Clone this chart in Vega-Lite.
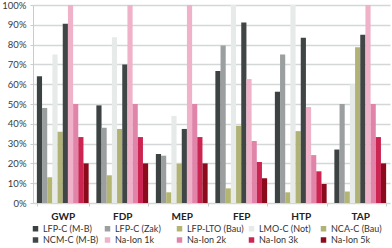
{
  "$schema": "https://vega.github.io/schema/vega-lite/v6.json",
  "width": 357,
  "height": 198,
  "autosize": {"type": "none"},
  "padding": {"left": 33, "top": 5, "right": 2, "bottom": 45},
  "background": "white",
  "config": {"view": {"stroke": null}, "font": "Lato"},
  "data": {"values": [
    {"cat": "GWP", "series": "LFP-C (M-B)", "value": 64},
    {"cat": "GWP", "series": "LFP-C (Zak)", "value": 48},
    {"cat": "GWP", "series": "LFP-LTO (Bau)", "value": 13},
    {"cat": "GWP", "series": "LMO-C (Not)", "value": 75},
    {"cat": "GWP", "series": "NCA-C (Bau)", "value": 36},
    {"cat": "GWP", "series": "NCM-C (M-B)", "value": 90.5},
    {"cat": "GWP", "series": "Na-Ion 1k", "value": 100},
    {"cat": "GWP", "series": "Na-Ion 2k", "value": 50},
    {"cat": "GWP", "series": "Na-Ion 3k", "value": 33.3},
    {"cat": "GWP", "series": "Na-Ion 5k", "value": 20},
    {"cat": "FDP", "series": "LFP-C (M-B)", "value": 49.3},
    {"cat": "FDP", "series": "LFP-C (Zak)", "value": 38},
    {"cat": "FDP", "series": "LFP-LTO (Bau)", "value": 14},
    {"cat": "FDP", "series": "LMO-C (Not)", "value": 83.7},
    {"cat": "FDP", "series": "NCA-C (Bau)", "value": 37.4},
    {"cat": "FDP", "series": "NCM-C (M-B)", "value": 70},
    {"cat": "FDP", "series": "Na-Ion 1k", "value": 100},
    {"cat": "FDP", "series": "Na-Ion 2k", "value": 50},
    {"cat": "FDP", "series": "Na-Ion 3k", "value": 33.3},
    {"cat": "FDP", "series": "Na-Ion 5k", "value": 20},
    {"cat": "MEP", "series": "LFP-C (M-B)", "value": 24.7},
    {"cat": "MEP", "series": "LFP-C (Zak)", "value": 23.9},
    {"cat": "MEP", "series": "LFP-LTO (Bau)", "value": 5.4},
    {"cat": "MEP", "series": "LMO-C (Not)", "value": 44},
    {"cat": "MEP", "series": "NCA-C (Bau)", "value": 19.8},
    {"cat": "MEP", "series": "NCM-C (M-B)", "value": 37.4},
    {"cat": "MEP", "series": "Na-Ion 1k", "value": 100},
    {"cat": "MEP", "series": "Na-Ion 2k", "value": 50},
    {"cat": "MEP", "series": "Na-Ion 3k", "value": 33.3},
    {"cat": "MEP", "series": "Na-Ion 5k", "value": 20},
    {"cat": "FEP", "series": "LFP-C (M-B)", "value": 66.7},
    {"cat": "FEP", "series": "LFP-C (Zak)", "value": 79.6},
    {"cat": "FEP", "series": "LFP-LTO (Bau)", "value": 7.4},
    {"cat": "FEP", "series": "LMO-C (Not)", "value": 100},
    {"cat": "FEP", "series": "NCA-C (Bau)", "value": 39},
    {"cat": "FEP", "series": "NCM-C (M-B)", "value": 91.2},
    {"cat": "FEP", "series": "Na-Ion 1k", "value": 62.6},
    {"cat": "FEP", "series": "Na-Ion 2k", "value": 31.3},
    {"cat": "FEP", "series": "Na-Ion 3k", "value": 20.7},
    {"cat": "FEP", "series": "Na-Ion 5k", "value": 12.5},
    {"cat": "HTP", "series": "LFP-C (M-B)", "value": 56.2},
    {"cat": "HTP", "series": "LFP-C (Zak)", "value": 75},
    {"cat": "HTP", "series": "LFP-LTO (Bau)", "value": 5.4},
    {"cat": "HTP", "series": "LMO-C (Not)", "value": 100},
    {"cat": "HTP", "series": "NCA-C (Bau)", "value": 36.3},
    {"cat": "HTP", "series": "NCM-C (M-B)", "value": 83.5},
    {"cat": "HTP", "series": "Na-Ion 1k", "value": 48.5},
    {"cat": "HTP", "series": "Na-Ion 2k", "value": 24.2},
    {"cat": "HTP", "series": "Na-Ion 3k", "value": 16},
    {"cat": "HTP", "series": "Na-Ion 5k", "value": 9.6},
    {"cat": "TAP", "series": "LFP-C (M-B)", "value": 27},
    {"cat": "TAP", "series": "LFP-C (Zak)", "value": 50},
    {"cat": "TAP", "series": "LFP-LTO (Bau)", "value": 5.8},
    {"cat": "TAP", "series": "LMO-C (Not)", "value": 60},
    {"cat": "TAP", "series": "NCA-C (Bau)", "value": 78.6},
    {"cat": "TAP", "series": "NCM-C (M-B)", "value": 85},
    {"cat": "TAP", "series": "Na-Ion 1k", "value": 100},
    {"cat": "TAP", "series": "Na-Ion 2k", "value": 50},
    {"cat": "TAP", "series": "Na-Ion 3k", "value": 33.3},
    {"cat": "TAP", "series": "Na-Ion 5k", "value": 20}
  ]},
  "mark": {"type": "bar"},
  "encoding": {
    "x": {
      "field": "cat", "type": "nominal",
      "sort": ["GWP", "FDP", "MEP", "FEP", "HTP", "TAP"],
      "scale": {"paddingInner": 0.13, "paddingOuter": 0.065},
      "axis": {"title": null, "labelAngle": 0, "labelFont": "Lato", "labelFontWeight": "bold", "labelFontSize": 10, "labelColor": "#222222", "domain": false, "ticks": true, "tickBand": "extent", "tickColor": "#c8cccc", "tickSize": 3, "labelPadding": 5}
    },
    "xOffset": {
      "field": "series", "type": "nominal",
      "sort": ["LFP-C (M-B)", "LFP-C (Zak)", "LFP-LTO (Bau)", "LMO-C (Not)", "NCA-C (Bau)", "NCM-C (M-B)", "Na-Ion 1k", "Na-Ion 2k", "Na-Ion 3k", "Na-Ion 5k"]
    },
    "y": {
      "field": "value", "type": "quantitative",
      "scale": {"domain": [0, 100]},
      "axis": {"title": null, "values": [0, 10, 20, 30, 40, 50, 60, 70, 80, 90, 100], "labelExpr": "datum.value + '%'", "labelFont": "Lato", "gridColor": "#d3d7d7", "gridWidth": 1.5, "domainColor": "#c8cccc", "tickColor": "#c8cccc", "tickSize": 3, "labelFontSize": 9.5, "labelColor": "#3a3a3a", "labelPadding": 4}
    },
    "color": {
      "field": "series", "type": "nominal",
      "scale": {
        "domain": ["LFP-C (M-B)", "LFP-C (Zak)", "LFP-LTO (Bau)", "LMO-C (Not)", "NCA-C (Bau)", "NCM-C (M-B)", "Na-Ion 1k", "Na-Ion 2k", "Na-Ion 3k", "Na-Ion 5k"],
        "range": ["#3c4141", "#9c9fa0", "#b4b571", "#e6eae8", "#b0b276", "#404545", "#efb2c9", "#e184aa", "#cc2552", "#8b0a1c"]
      },
      "legend": {"title": null, "orient": "none", "legendX": -2, "legendY": 219, "direction": "horizontal", "columns": 5, "gridAlign": "all", "symbolType": "square", "symbolSize": 30, "labelFont": "Lato", "labelFontSize": 9, "labelColor": "#333333", "labelOffset": 3, "columnPadding": 3, "rowPadding": 1.5}
    }
  }
}
